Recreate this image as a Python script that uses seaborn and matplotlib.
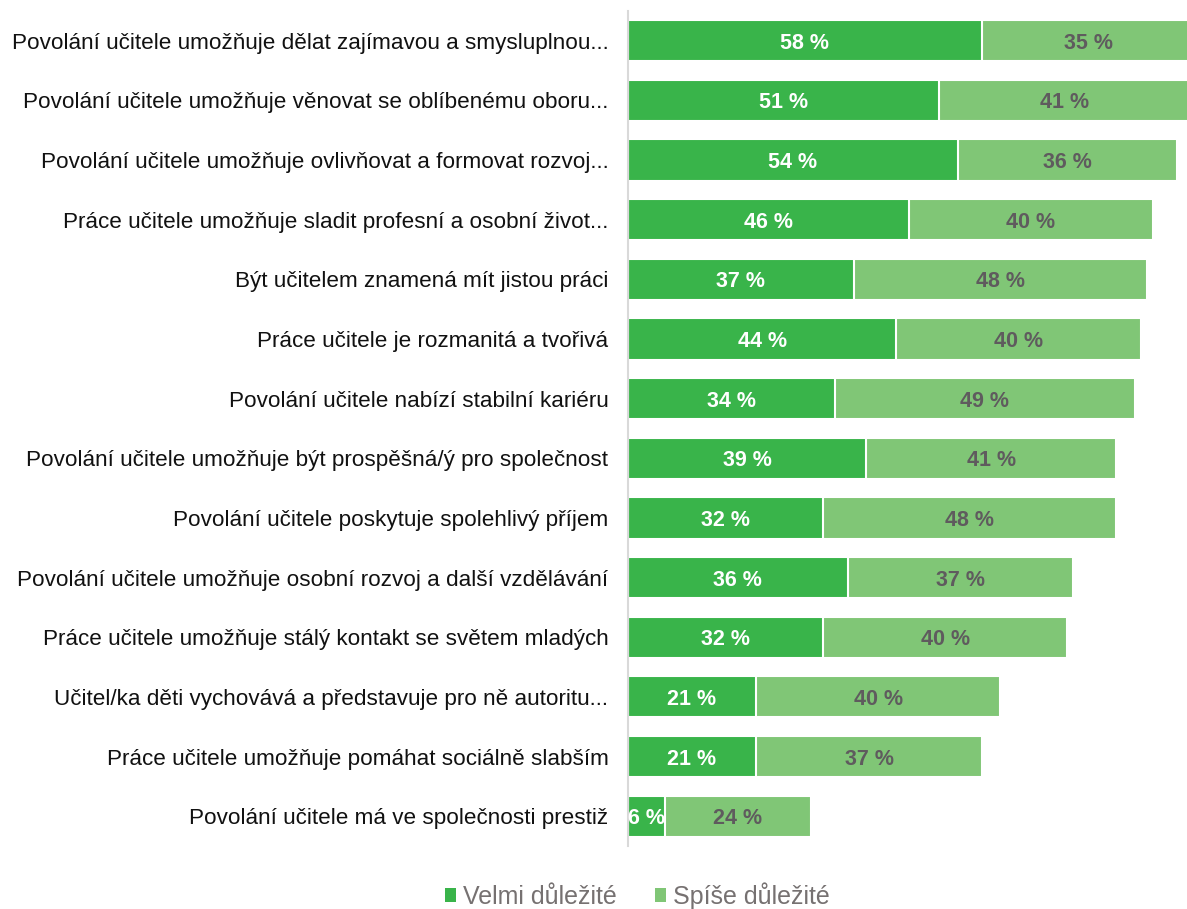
import matplotlib
matplotlib.use("Agg")
import matplotlib.pyplot as plt
import seaborn as sns
import pandas as pd
from matplotlib.patches import Patch

categories = [
    "Povolání učitele umožňuje dělat zajímavou a smysluplnou...",
    "Povolání učitele umožňuje věnovat se oblíbenému oboru...",
    "Povolání učitele umožňuje ovlivňovat a formovat rozvoj...",
    "Práce učitele umožňuje sladit profesní a osobní život...",
    "Být učitelem znamená mít jistou práci",
    "Práce učitele je rozmanitá a tvořivá",
    "Povolání učitele nabízí stabilní kariéru",
    "Povolání učitele umožňuje být prospěšná/ý pro společnost",
    "Povolání učitele poskytuje spolehlivý příjem",
    "Povolání učitele umožňuje osobní rozvoj a další vzdělávání",
    "Práce učitele umožňuje stálý kontakt se světem mladých",
    "Učitel/ka děti vychovává a představuje pro ně autoritu...",
    "Práce učitele umožňuje pomáhat sociálně slabším",
    "Povolání učitele má ve společnosti prestiž",
]
velmi = [58, 51, 54, 46, 37, 44, 34, 39, 32, 36, 32, 21, 21, 6]
spise = [35, 41, 36, 40, 48, 40, 49, 41, 48, 37, 40, 40, 37, 24]
series_names = ["Velmi důležité", "Spíše důležité"]

dark = "#39B44A"
light = "#80C676"
label_grey = "#5F5B5E"
legend_grey = "#767171"

sns.set_theme(style="white")
plt.rcParams["font.family"] = ["Liberation Sans", "DejaVu Sans"]

df = pd.DataFrame({"cat": categories, "velmi": velmi, "spise": spise})
df["total"] = df["velmi"] + df["spise"]

fig = plt.figure(figsize=(11.87, 9.09), dpi=100)
ax = fig.add_axes([0.529, 0.0693, 0.471, 0.9187])

# Full stacked length first, then the first segment drawn on top of it
sns.barplot(data=df, x="total", y="cat", orient="h", color=light, width=0.69,
            edgecolor="white", linewidth=1.5, saturation=1, ax=ax)
sns.barplot(data=df, x="velmi", y="cat", orient="h", color=dark, width=0.69,
            edgecolor="white", linewidth=1.5, saturation=1, ax=ax)

for i, (v, s) in enumerate(zip(velmi, spise)):
    ax.text(v / 2, i, f"{v} %", ha="center", va="center_baseline", color="white",
            fontsize=15.5, fontweight="bold")
    ax.text(v + s / 2, i, f"{s} %", ha="center", va="center_baseline", color=label_grey,
            fontsize=15.5, fontweight="bold")

ax.set_xlim(0, 91.6)
ax.set_ylim(13.5, -0.5)
ax.set_xlabel("")
ax.set_ylabel("")
ax.set_xticks([])
ax.tick_params(axis="y", length=0, pad=14, labelsize=16.2, labelcolor="#111111")
for side in ["top", "right", "bottom"]:
    ax.spines[side].set_visible(False)
ax.spines["left"].set_color("#D9D9D9")
ax.spines["left"].set_linewidth(1.5)

handles = [Patch(facecolor=dark, edgecolor="none"), Patch(facecolor=light, edgecolor="none")]
leg = fig.legend(handles, series_names, loc="center", bbox_to_anchor=(0.537, 0.015),
                 ncol=2, frameon=False, fontsize=18, handlelength=0.45, handleheight=0.45,
                 handletextpad=0.3, columnspacing=1.5)
for t in leg.get_texts():
    t.set_color(legend_grey)

fig.savefig("out.png", dpi=100)
